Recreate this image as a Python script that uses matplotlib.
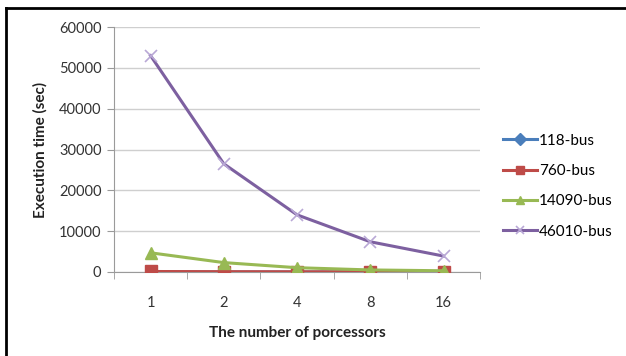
import matplotlib
matplotlib.use("Agg")
import matplotlib.pyplot as plt
from matplotlib.lines import Line2D
import numpy as np

plt.rcParams['font.family'] = ['Lato', 'DejaVu Sans']

processors = ['1', '2', '4', '8', '16']
bus_118 = [3, 2, 1, 1, 1]
bus_760 = [120, 70, 45, 35, 30]
bus_14090 = [4700, 2300, 1050, 500, 300]
bus_46010 = [53000, 26500, 14000, 7400, 3900]

series = [
    ('118-bus', bus_118, '#4A7EBB', 'D', 5),
    ('760-bus', bus_760, '#BE4B48', 's', 8),
    ('14090-bus', bus_14090, '#98B954', '^', 8),
    ('46010-bus', bus_46010, '#7D60A0', 'x', 8),
]

fig = plt.figure(figsize=(6.26, 3.56), dpi=100)
ax = fig.add_axes([0.182, 0.236, 0.585, 0.688])

x = np.arange(len(processors))
for name, vals, col, mk, ms in series:
    if mk == 'x':
        ax.plot(x, vals, color=col, lw=2.2, marker=mk, ms=ms, mec='#B9A8D6',
                mew=1.2, label=name, zorder=3)
    else:
        ax.plot(x, vals, color=col, lw=2.2, marker=mk, ms=ms, mec=col,
                label=name, zorder=3)

ax.set_xlim(-0.5, len(processors) - 0.5)
ax.set_ylim(0, 60000)
ax.set_yticks(np.arange(0, 60001, 10000))
ax.set_xticks(x)
ax.set_xticklabels(processors)
ax.set_xticks(np.arange(-0.5, len(processors)), minor=True)

ax.grid(axis='y', color='#CFCFCF', lw=1)
ax.set_axisbelow(True)
for s in ['top', 'right']:
    ax.spines[s].set_visible(False)
ax.spines['left'].set_color('#9A9A9A')
ax.spines['bottom'].set_color('#9A9A9A')

ax.tick_params(axis='x', which='major', length=0, pad=17, labelsize=10.5,
               labelcolor='#333333')
ax.tick_params(axis='x', which='minor', length=5, color='#9A9A9A')
ax.tick_params(axis='y', length=5, color='#9A9A9A', labelsize=10.5,
               labelcolor='#333333', pad=4)

ax.set_xlabel('The number of porcessors', fontsize=11, fontweight='bold',
              color='#222222', labelpad=12)
ax.set_ylabel('Execution time (sec)', fontsize=11, fontweight='bold',
              color='#222222', labelpad=8)

leg = ax.legend(loc='center left', bbox_to_anchor=(1.025, 0.35), frameon=False,
                fontsize=11, labelspacing=1.07, handlelength=2.2,
                handletextpad=0.15)
for h in leg.legend_handles:
    h.set_markersize(6)

# frame lines along the top and left edges
fig.add_artist(Line2D([0.009, 1.0], [0.977, 0.977], transform=fig.transFigure,
                      color='black', lw=2))
fig.add_artist(Line2D([0.009, 0.009], [0.0, 0.977], transform=fig.transFigure,
                      color='black', lw=2))

fig.savefig('out.png', dpi=100)
